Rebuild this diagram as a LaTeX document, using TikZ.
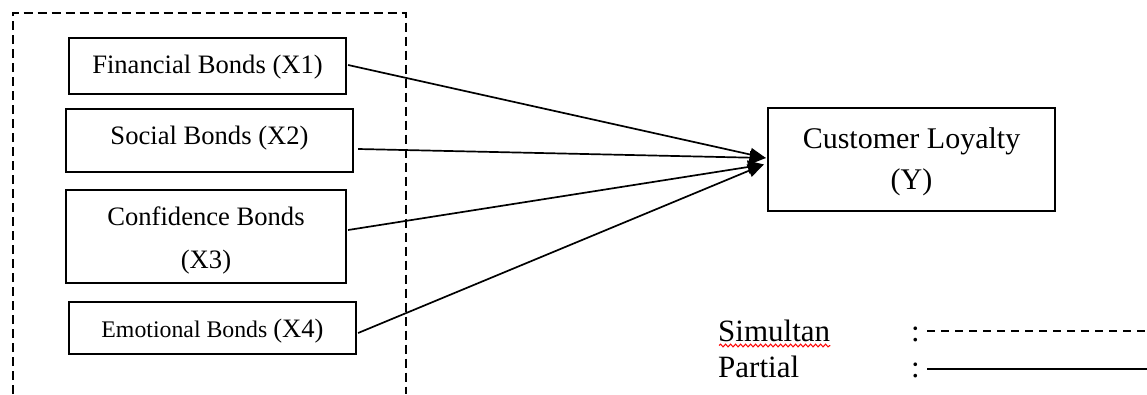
\documentclass[tikz,border=0pt]{standalone}
\usepackage{fontspec}
\setmainfont{Liberation Serif}
\usetikzlibrary{arrows.meta,calc,decorations.pathmorphing}
\begin{document}
\begin{tikzpicture}[x=1pt,y=-1pt,
  box/.style={draw,line width=2.2pt,inner sep=0pt},
  lbl/.style={inner sep=0pt,anchor=base,font=\fontsize{26.6}{32}\selectfont},
  big/.style={inner sep=0pt,anchor=base,font=\fontsize{30}{36}\selectfont},
  leg/.style={inner sep=0pt,anchor=base west,font=\fontsize{31}{37}\selectfont},
  conn/.style={line width=1.7pt,-{Triangle[length=16pt,width=13pt]}},
  grp/.style={line width=2pt,dash pattern=on 9pt off 5pt},
  legline/.style={line width=2pt},
  spell/.style={red,line width=1pt,decorate,decoration={snake,amplitude=1.4pt,segment length=5pt}}]
\useasboundingbox (0,0) rectangle (1147,394);

% group frame
\draw[grp] (12.7,394) -- (12.7,13) -- (406,13) -- (406,394);

% boxes
\node[box,minimum width=277pt,minimum height=56pt] (b1) at (207.5,66) {};
\node[box,minimum width=287pt,minimum height=63pt] (b2) at (209.5,140.5) {};
\node[box,minimum width=280pt,minimum height=93pt] (b3) at (206,236.5) {};
\node[box,minimum width=287pt,minimum height=52pt] (b4) at (212.5,328) {};
\node[box,minimum width=287pt,minimum height=103pt] (y) at (911.5,159.5) {};

% texts
\node[lbl] (t1) at (207.5,73) {Financial Bonds (X1)};
\node[lbl] (t2) at (209.5,144) {Social Bonds (X2)};
\node[lbl] (t3a) at (206,225) {Confidence Bonds};
\node[lbl] (t3b) at (206,268) {(X3)};
\node[lbl] (t4) at (212.5,337) {{\fontsize{23.8}{28}\selectfont Emotional Bonds }(X4)};
\node[big] (ty1) at (911.5,148) {Customer Loyalty};
\node[big] (ty2) at (911.5,189) {(Y)};

% connectors
\coordinate (in1) at ($(y.west)+(-1,-1.5)$);
\coordinate (in2) at ($(y.west)+(-3,5)$);
\draw[conn] ($(b1.east)+(1,-1)$) -- (in1);
\draw[conn] ($(b2.east)+(4,8.5)$) -- (in1);
\draw[conn] ($(b3.east)+(1,-6.5)$) -- (in2);
\draw[conn] ($(b4.east)+(1,5)$) -- (in2);

% legend
\node[leg] (sim) at (718,341) {Simultan};
\node[leg] (par) at (718,377) {Partial};
\node[leg] (c1) at (911,341) {:};
\node[leg] (c2) at (911,377) {:};
\draw[spell] ($(sim.base west)+(1,4.5)$) -- ($(sim.base east)+(0,4.5)$);
\coordinate (d1s) at (927,331);
\coordinate (d1e) at (1147,331);
\coordinate (d2s) at (927,369);
\coordinate (d2e) at (1147,369);
\draw[legline,dash pattern=on 8pt off 6pt] (d1s) -- (d1e);
\draw[legline] (d2s) -- (d2e);
\end{tikzpicture}
\end{document}
